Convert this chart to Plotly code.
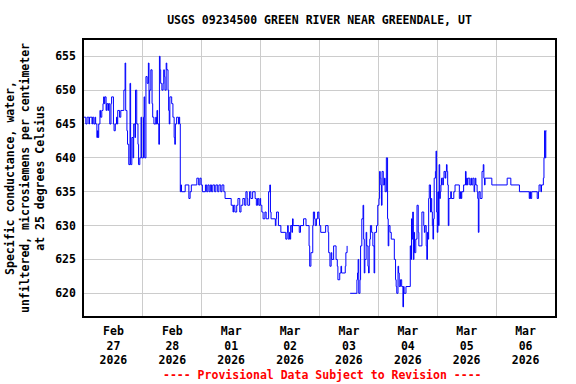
import pandas as pd
import plotly.graph_objects as go

# Hours after 2026-02-27 00:00 (local) where the reading changes, and the reading (uS/cm)
hours = [0,0.75,1.25,2,2.25,3.25,3.5,4,4.5,4.75,5.25,5.5,5.75,6,6.5,6.75,7.25,7.75,8,8.25,8.5,9,9.25,9.75,10,10.5,11,11.25,12,12.25,12.75,13.25,13.5,13.75,14.5,15,16.25,16.75,17,17.5,17.75,18.25,18.75,19,19.5,20,20.25,20.75,21,21.5,22,22.25,22.75,23.25,23.5,
         24.25,24.5,24.75,25.25,25.75,26.25,26.5,26.75,27.25,27.75,28,28.5,29.25,29.5,29.75,30,30.5,30.75,31,31.25,31.75,32.25,32.5,32.75,33,33.5,33.75,34.25,34.5,34.75,35,35.75,36.25,36.75,37,37.25,37.75,38.5,38.75,39,39.25,39.5,39.75,41.25,42.75,43.25,43.75,46,46.75,47.25,47.75,
         48.25,49.5,50,50.5,51,51.5,52,52.5,53.25,53.75,54.5,55,55.75,56.25,57,57.5,60,60.75,61,61.5,62.25,62.75,63.5,64,64.75,65.5,66,66.5,66.75,67.5,68,68.75,69.75,70.25,70.75,71.25,71.75,
         72,72.5,73,73.75,74.25,75.25,75.75,76,76.25,78,78.25,78.5,79.25,80.25,82.25,82.75,83,83.25,83.75,84,84.25,84.75,85,85.25,87.75,88.25,89.5,90.5,91.75,92,92.5,93.25,93.5,94,94.25,94.75,95.25,95.75,
         96,96.5,98.5,99.5,99.75,100.25,100.75,101,101.75,102.75,103.25,103.5,104.25,104.75,105,106.5,106.75,107.25,107.75,108.5,111.25,111.5,111.75,112,112.5,112.75,113.25,113.75,114,114.25,114.5,115,115.25,115.75,116,116.25,116.5,116.75,117.25,117.75,118.25,118.5,119.25,119.75,
         120.25,120.5,120.75,121,121.25,121.5,122,122.5,122.75,123.25,123.75,124,124.25,124.75,125.25,126.5,127,127.25,127.5,128,128.25,128.5,129,129.5,130,130.25,130.5,131.25,133,133.25,133.5,133.75,134,134.25,134.5,134.75,135.25,135.75,136.25,136.5,137.75,138.5,138.75,139,139.5,139.75,140,140.25,140.5,140.75,141.25,141.5,141.75,142,142.25,142.5,142.75,143.25,143.5,143.75,
         144,144.25,144.5,144.75,145,145.25,145.5,145.75,146.25,146.5,146.75,147.25,147.5,147.75,148,148.25,148.5,148.75,149.5,149.75,150.75,151.25,153,153.5,153.75,154,154.75,155.5,155.75,156,156.25,156.5,157.25,157.75,158,158.5,159,159.25,159.5,159.75,160.25,160.5,160.75,161,161.5,162.25,162.75,163,163.25,163.5,166.25,
         172.5,174,177.5,181.5,181.75,182,182.5,184.75,185.25,185.5,186.25,186.5,187.25,187.5,187.75,188,188.25,188.5]
values = [646,645,646,645,646,645,646,645,646,645,643,644,643,645,647,646,647,648,649,648,649,647,648,647,648,645,648,649,645,644,645,646,645,647,646,647,650,654,647,644,642,639,651,639,643,640,645,643,650,645,642,639,640,646,640,
          646,649,640,652,651,654,648,650,653,648,646,645,646,645,647,645,642,655,653,651,650,651,653,652,650,654,653,650,647,645,649,648,646,643,642,645,646,645,646,645,635,636,635,636,634,635,636,637,636,637,636,
          635,636,635,636,635,636,635,636,635,636,635,636,635,636,635,634,633,632,633,632,633,634,632,633,634,633,635,634,633,635,634,635,634,633,634,633,634,
          633,632,631,632,631,635,636,632,631,630,631,632,630,629,628,629,630,628,629,628,630,629,631,630,629,630,631,630,627,624,626,630,632,631,630,631,632,631,
          630,629,630,629,626,624,626,625,627,625,624,622,623,624,623,624,626,627,None,620,622,623,625,620,622,627,631,633,628,623,625,629,627,624,623,627,628,630,629,627,623,629,630,633,
          634,638,637,636,633,638,636,637,635,640,631,627,630,629,628,625,622,621,620,624,623,621,622,621,618,621,620,621,627,625,631,628,632,625,629,626,628,633,629,627,632,630,629,630,627,625,629,628,634,636,632,634,632,630,628,631,637,638,641,632,
          629,635,630,639,634,635,636,637,636,637,638,637,638,639,638,636,630,634,635,634,635,636,634,635,634,635,636,638,636,637,636,637,636,637,636,637,635,636,637,636,635,634,629,635,634,638,639,637,636,637,636,
          637,636,635,634,635,634,635,634,635,636,635,636,637,640,644,640,644,644]

start = pd.Timestamp("2026-02-27 00:00")
times = [start + pd.Timedelta(hours=h) for h in hours]

title_text = "USGS 09234500 GREEN RIVER NEAR GREENDALE, UT"
y_title = "Specific conductance, water,<br>unfiltered, microsiemens per centimeter<br>at 25 degrees Celsius"
footer = "---- Provisional Data Subject to Revision ----"
y_ticks = [620, 625, 630, 635, 640, 645, 650, 655]

FONT = "DejaVu Sans Mono"

fig = go.Figure()
fig.add_trace(go.Scatter(x=times, y=values, mode="lines", line=dict(color="#0000FF", width=1, shape="hv"),
                         connectgaps=False, hoverinfo="skip"))

fig.update_layout(
    width=576, height=384,
    margin=dict(l=84, r=21, t=40, b=68, autoexpand=False),
    plot_bgcolor="white", paper_bgcolor="white",
    showlegend=False,
    font=dict(family=FONT, size=11.5, color="black"),
    title=dict(text="<b>" + title_text + "</b>", x=0.5, xref="paper", xanchor="center",
               y=1 - 20 / 384, yref="container", yanchor="middle",
               font=dict(family=FONT, size=11.5, color="black")),
)

fig.update_xaxes(
    type="date",
    range=["2026-02-27 00:00", "2026-03-07 00:00"],
    dtick=86400000, tick0="2026-02-27",
    ticklabelmode="period",
    tickformat="%b<br>%d<br>%Y",
    tickfont=dict(family=FONT, size=11.5, color="black", weight="bold"),
    showgrid=True, gridcolor="#cccccc", gridwidth=1,
    showline=True, linecolor="black", linewidth=1.5, mirror=True,
    ticks="outside", ticklen=3, tickcolor="white", zeroline=False,
)
fig.update_yaxes(
    range=[616.65, 657.4],
    tickmode="array", tickvals=y_ticks,
    tickfont=dict(family=FONT, size=11.5, color="black", weight="bold"),
    showgrid=True, gridcolor="#cccccc", gridwidth=1,
    showline=True, linecolor="black", linewidth=1.5, mirror=True,
    ticks="outside", ticklen=4, tickcolor="white",
    zeroline=False,
    title=dict(text="<b>" + y_title + "</b>", standoff=8,
               font=dict(family=FONT, size=11.5, color="black")),
)

fig.add_annotation(text="<b>" + footer + "</b>", xref="paper", yref="paper",
                   x=0.507, y=-0.214, xanchor="center", yanchor="middle", showarrow=False,
                   font=dict(family=FONT, size=11.5, color="#FF0000"))

fig.write_html("out.html", config={"displayModeBar": False},
               post_script="document.body.style.margin='0px';")
